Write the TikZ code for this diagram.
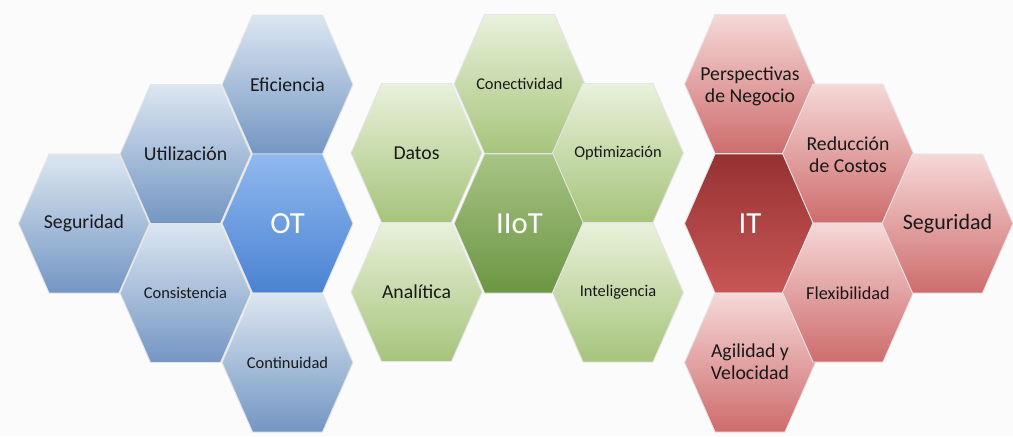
\documentclass[tikz,border=0pt]{standalone}
\usepackage{fontspec}
\setmainfont{Carlito}
\tikzset{
  hexa/.pic={\path[pic actions] (-65.5,0) -- (-35,-69.5) -- (35,-69.5) -- (65.5,0) -- (35,69.5) -- (-35,69.5) -- cycle;},
  hexline/.style={draw=white!80!gray, line width=0.7pt},
  blueout/.style={hexline, top color=blue1t, middle color=blue1m, bottom color=blue1b},
  bluein/.style={hexline, top color=blue2t, bottom color=blue2b},
  greenout/.style={hexline, top color=green1t, middle color=green1m, bottom color=green1b},
  greenin/.style={hexline, top color=green2t, bottom color=green2b},
  redout/.style={hexline, top color=red1t, middle color=red1m, bottom color=red1b},
  redin/.style={hexline, top color=red2t, bottom color=red2b},
  lbl/.style={text=black!90, align=center, font=\fontsize{14.8}{16.5}\selectfont},
  lbls/.style={text=black!90, align=center, font=\fontsize{12.3}{15}\selectfont},
  lblc/.style={text=white, align=center, font=\fontsize{23}{26}\selectfont},
}
\definecolor{blue1t}{HTML}{DCE6F1}
\definecolor{blue1m}{HTML}{A7BFDA}
\definecolor{blue1b}{HTML}{7396C3}
\definecolor{blue2t}{HTML}{90B9EE}
\definecolor{blue2b}{HTML}{4A82D2}
\definecolor{green1t}{HTML}{E9F1DB}
\definecolor{green1m}{HTML}{C6DAA6}
\definecolor{green1b}{HTML}{A6C47B}
\definecolor{green2t}{HTML}{A7C485}
\definecolor{green2b}{HTML}{6B9642}
\definecolor{red1t}{HTML}{F6D8D8}
\definecolor{red1m}{HTML}{E6AAAA}
\definecolor{red1b}{HTML}{CE6C6C}
\definecolor{red2t}{HTML}{963232}
\definecolor{red2b}{HTML}{C95656}
\begin{document}
\begin{tikzpicture}[x=0.75pt,y=-0.75pt]
\useasboundingbox (0,0) rectangle (1013,436);
\fill[white!97!gray] (0,0) rectangle (1013,436);
% OT cluster
\pic[blueout] at (84,223.5) {hexa};
\pic[blueout] at (185.5,154) {hexa};
\pic[blueout] at (185.5,293) {hexa};
\pic[blueout] at (287.5,84.5) {hexa};
\pic[bluein] at (287.5,223.5) {hexa};
\pic[blueout] at (287.5,362.5) {hexa};
\node[lbl] (seg1) at (84,223.5) {Seguridad};
\node[lbl] (util) at (185.5,154) {Utilización};
\node[lbls] (cons) at (185.5,293) {Consistencia};
\node[lbl] (efic) at (287.5,84.5) {Eficiencia};
\node[lblc] (ot) at (287.5,223.5) {OT};
\node[lbls] (cont) at (287.5,362.5) {Continuidad};
% IIoT cluster
\pic[greenout] at (416.5,153) {hexa};
\pic[greenout] at (416.5,292) {hexa};
\pic[greenout] at (519.5,84) {hexa};
\pic[greenin] at (519.5,223.5) {hexa};
\pic[greenout] at (618,153) {hexa};
\pic[greenout] at (618,292.5) {hexa};
\node[lbl] (datos) at (416.5,153) {Datos};
\node[lbl] (anal) at (416.5,292) {Analítica};
\node[lbls] (conec) at (519.5,84) {Conectividad};
\node[lblc] (iiot) at (519.5,223.5) {IIoT};
\node[lbls] (optim) at (618,153) {Optimización};
\node[lbls] (intel) at (618,292.5) {Inteligencia};
% IT cluster
\pic[redout] at (750,84) {hexa};
\pic[redin] at (750,223.5) {hexa};
\pic[redout] at (750,362.5) {hexa};
\pic[redout] at (848,153.5) {hexa};
\pic[redout] at (848,292.5) {hexa};
\pic[redout] at (947.5,223.5) {hexa};
\node[lbl] (persp) at (750,86) {Perspectivas\\de Negocio};
\node[lblc] (it) at (750,223.5) {IT};
\node[lbl] (agil) at (750,362) {Agilidad y\\Velocidad};
\node[lbl] (reduc) at (848,155) {Reducción\\de Costos};
\node[lbl, font=\fontsize{13.7}{16}\selectfont] (flex) at (848,293) {Flexibilidad};
\node[lbl, font=\fontsize{16.5}{19}\selectfont] (seg2) at (947.5,223.5) {Seguridad};
\end{tikzpicture}
\end{document}
